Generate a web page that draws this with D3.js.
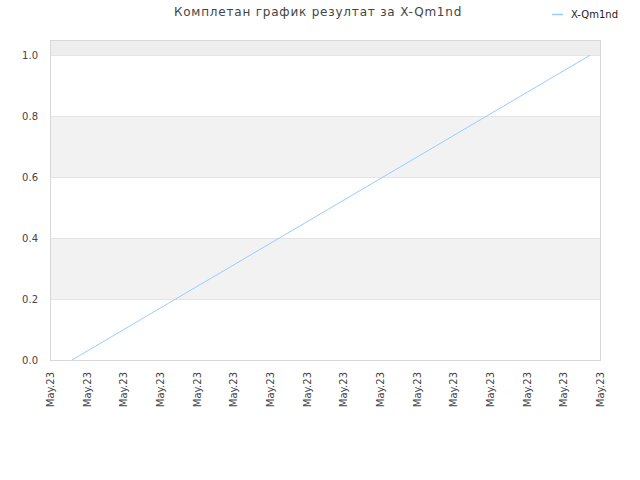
<!DOCTYPE html>
<html>
<head>
<meta charset="utf-8">
<script src="https://cdn.jsdelivr.net/npm/d3@7"></script>
<style>
  body { margin: 0; background: #fff; }
  text { font-family: "DejaVu Sans", sans-serif; }
</style>
</head>
<body>
<svg id="chart" width="640" height="480"></svg>
<script>
// chart data
var seriesName = "X-Qm1nd";
var chartTitle = "Комплетан график резултат за X-Qm1nd";
var pointTimes = ["2023-05-01T14:24", "2023-05-15T17:30"];
var pointValues = [0, 1];
var tickTimes = ["2023-05-01", "2023-05-02", "2023-05-03", "2023-05-04", "2023-05-05",
  "2023-05-06", "2023-05-07", "2023-05-08", "2023-05-09", "2023-05-10", "2023-05-11",
  "2023-05-12", "2023-05-13", "2023-05-14", "2023-05-15", "2023-05-16"];
var tickLabels = ["May.23", "May.23", "May.23", "May.23", "May.23", "May.23", "May.23", "May.23",
  "May.23", "May.23", "May.23", "May.23", "May.23", "May.23", "May.23", "May.23"];
var yTicks = [0, 0.2, 0.4, 0.6, 0.8, 1.0];

var svg = d3.select("#chart");
var plotL = 50, plotR = 600, plotT = 40, plotB = 360;

var parse = d3.isoParse;
var ticks = tickTimes.map(function(t) { return parse(t); });

var x = d3.scaleTime()
  .domain([ticks[0], ticks[ticks.length - 1]])
  .range([plotL, plotR]);
var y = d3.scaleLinear().domain([0, 1.05]).range([plotB, plotT]);

// background bands
svg.append("rect").attr("x", plotL).attr("y", plotT)
  .attr("width", plotR - plotL).attr("height", y(1.0) - plotT)
  .attr("fill", "#eeeeee");
[[0.2, 0.4], [0.6, 0.8]].forEach(function(b) {
  svg.append("rect").attr("x", plotL).attr("y", y(b[1]))
    .attr("width", plotR - plotL).attr("height", y(b[0]) - y(b[1]))
    .attr("fill", "#f2f2f2");
});

// grid lines
svg.append("g").selectAll("line").data(yTicks.slice(1)).enter().append("line")
  .attr("x1", plotL).attr("x2", plotR)
  .attr("y1", function(d) { return Math.round(y(d)) + 0.5; })
  .attr("y2", function(d) { return Math.round(y(d)) + 0.5; })
  .attr("stroke", "#e4e4e4");

// frame
svg.append("rect").attr("x", plotL + 0.5).attr("y", plotT + 0.5)
  .attr("width", plotR - plotL).attr("height", plotB - plotT)
  .attr("fill", "none").attr("stroke", "#d8d8d8");

// y axis
var yAxis = d3.axisLeft(y).tickValues(yTicks).tickFormat(d3.format(".1f")).tickSize(0).tickPadding(12);
var gy = svg.append("g").attr("transform", "translate(" + plotL + ",0)").call(yAxis);
gy.select(".domain").remove();
gy.selectAll("text").attr("fill", "#444").style("font-size", "10px");

// x axis
var xAxis = d3.axisBottom(x).tickValues(ticks)
  .tickFormat(function(d, i) { return tickLabels[i]; }).tickSize(0);
var gx = svg.append("g").attr("transform", "translate(0," + plotB + ")").call(xAxis);
gx.select(".domain").remove();
gx.selectAll("text")
  .attr("fill", "#444").style("font-size", "10px")
  .attr("text-anchor", "end")
  .attr("transform", "rotate(-90)")
  .attr("x", -12).attr("y", 0).attr("dy", "0.35em");

// series line
var line = d3.line()
  .x(function(d, i) { return x(parse(pointTimes[i])); })
  .y(function(d) { return y(d); });
svg.append("path").datum(pointValues)
  .attr("d", line)
  .attr("fill", "none")
  .attr("stroke", "#99ccff")
  .attr("stroke-width", 1);

// title
svg.append("text").attr("x", 318).attr("y", 16)
  .attr("text-anchor", "middle")
  .attr("fill", "#444")
  .style("font-size", "12px")
  .style("letter-spacing", "0.8px")
  .text(chartTitle);

// legend
svg.append("line").attr("x1", 552).attr("x2", 563).attr("y1", 14.5).attr("y2", 14.5)
  .attr("stroke", "#99ccff").attr("stroke-width", 1.5);
svg.append("text").attr("x", 571).attr("y", 14).attr("dy", "0.35em")
  .attr("fill", "#222").style("font-size", "10px")
  .text(seriesName);
</script>
</body>
</html>
